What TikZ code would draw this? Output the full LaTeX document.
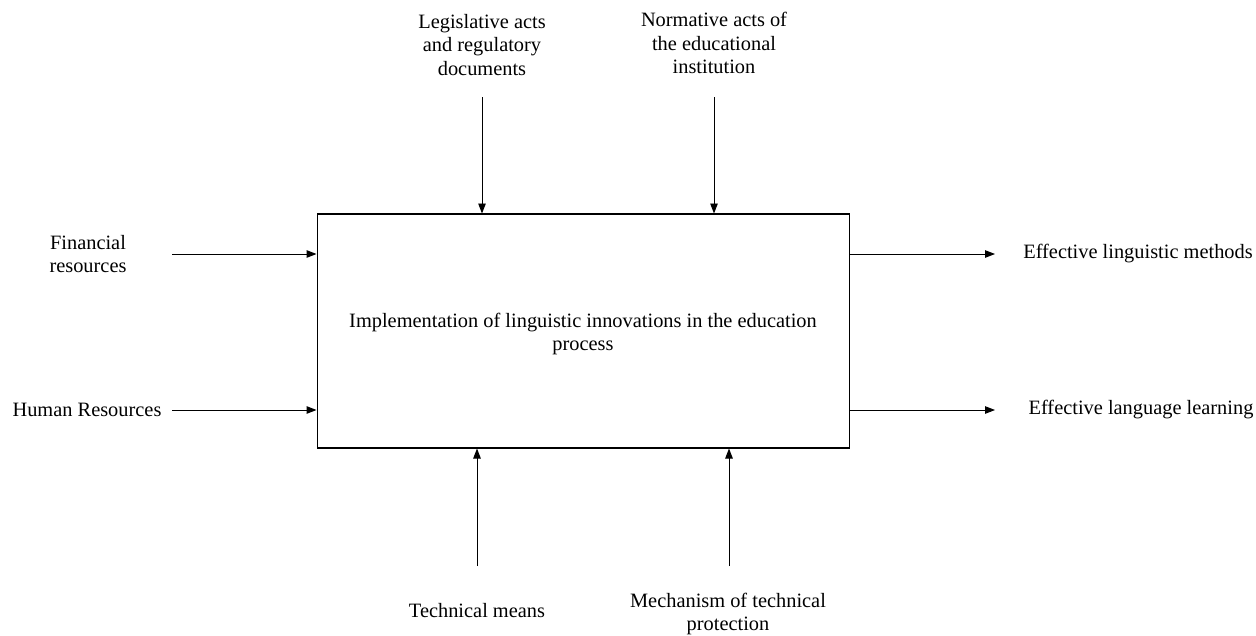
\documentclass[tikz,border=0pt]{standalone}
\usepackage{fontspec}
\setmainfont{Liberation Serif}
\usetikzlibrary{arrows.meta}

\begin{document}
\begin{tikzpicture}[x=0.02cm,y=-0.02cm]
\tikzset{every node/.style={inner sep=0pt,align=center,font=\fontsize{11.6}{13.2}\selectfont}}
\tikzset{arr/.style={line width=0.55pt,-{Triangle[length=0.2cm,width=0.15cm]}}}
\useasboundingbox (0,0) rectangle (1256,635);
% main block
\node [draw,line width=0.6pt,minimum width=10.66cm,minimum height=4.68cm] (box) at (583.5,331) {};
\node (task) at (583,334) {Implementation of linguistic innovations in the education\\process};
% inputs
\node (fin) at (88,254) {Financial\\resources};
\node (hum) at (87,410) {Human Resources};
\coordinate (fin1) at (172,254);
\coordinate (hum1) at (172,410);
\draw [arr] (fin1) -- (fin1 -| box.west);
\draw [arr] (hum1) -- (hum1 -| box.west);
% controls
\node (leg) at (482,45) {Legislative acts\\and regulatory\\documents};
\node (norm) at (714,43) {Normative acts of\\the educational\\institution};
\coordinate (leg1) at (482,97);
\coordinate (norm1) at (714,97);
\draw [arr] (leg1) -- (leg1 |- box.north);
\draw [arr] (norm1) -- (norm1 |- box.north);
% mechanisms
\node (tech) at (477,611) {Technical means};
\node (mech) at (728,614) {Mechanism of technical\\protection};
\coordinate (tech1) at (477,566);
\coordinate (mech1) at (729,566);
\draw [arr] (tech1) -- (tech1 |- box.south);
\draw [arr] (mech1) -- (mech1 |- box.south);
% outputs
\node (meth) at (1138,254) {Effective linguistic methods};
\node (learn) at (1141,410) {Effective language learning};
\coordinate (meth1) at (995,254);
\coordinate (learn1) at (995,410);
\draw [arr] (meth1 -| box.east) -- (meth1);
\draw [arr] (learn1 -| box.east) -- (learn1);
\end{tikzpicture}
\end{document}
